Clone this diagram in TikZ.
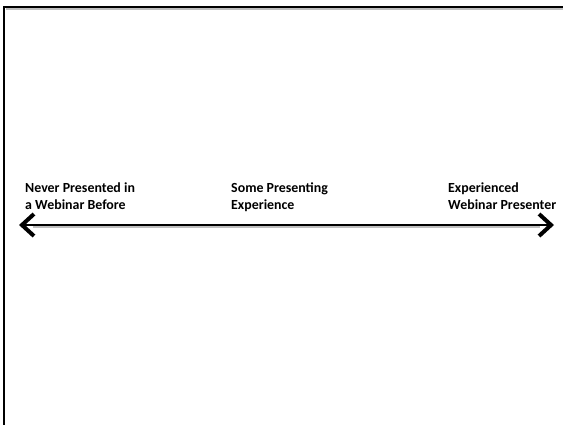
\documentclass[tikz,border=0pt]{standalone}
\usepackage{fontspec}
\setmainfont{Carlito}
\usetikzlibrary{arrows.meta}
\tikzset{
  frameline/.style={line width=2.5pt, line cap=rect},
  label/.style={anchor=base west, align=left, inner sep=0pt, font=\fontsize{13.9}{16.5}\selectfont\bfseries},
  axis/.style={line width=2pt, {Straight Barb[length=12pt,width=22pt,line width=4pt]}-{Straight Barb[length=12pt,width=22pt,line width=4pt]}},
  shadowline/.style={line width=1.5pt, black!25}
}
\begin{document}
\begin{tikzpicture}[x=1pt,y=-1pt]
\useasboundingbox (0,0) rectangle (563,424);
\fill[white] (0,0) rectangle (563,424);
% frame
\coordinate (ftr) at (563,7);
\coordinate (ftl) at (4,7);
\coordinate (fbl) at (4,424);
\draw[shadowline] ([yshift=-2pt]ftr) -- ([yshift=-2pt,xshift=2pt]ftl);
\draw[frameline] (ftr) -- (ftl) -- (fbl);
% labels (anchor = baseline of the last line)
\node[label] (never) at (25,209.3) {Never Presented in\\a Webinar Before};
\node[label] (some) at (231,209.3) {Some Presenting\\Experience};
\node[label] (exp) at (448,209.3) {Experienced\\Webinar Presenter};
% axis
\coordinate (L) at (19,225);
\coordinate (R) at (554,225);
\draw[shadowline] ([xshift=14pt,yshift=-2pt]L) -- ([xshift=-14pt,yshift=-2pt]R);
\draw[axis] (L) -- (R);
\end{tikzpicture}
\end{document}
